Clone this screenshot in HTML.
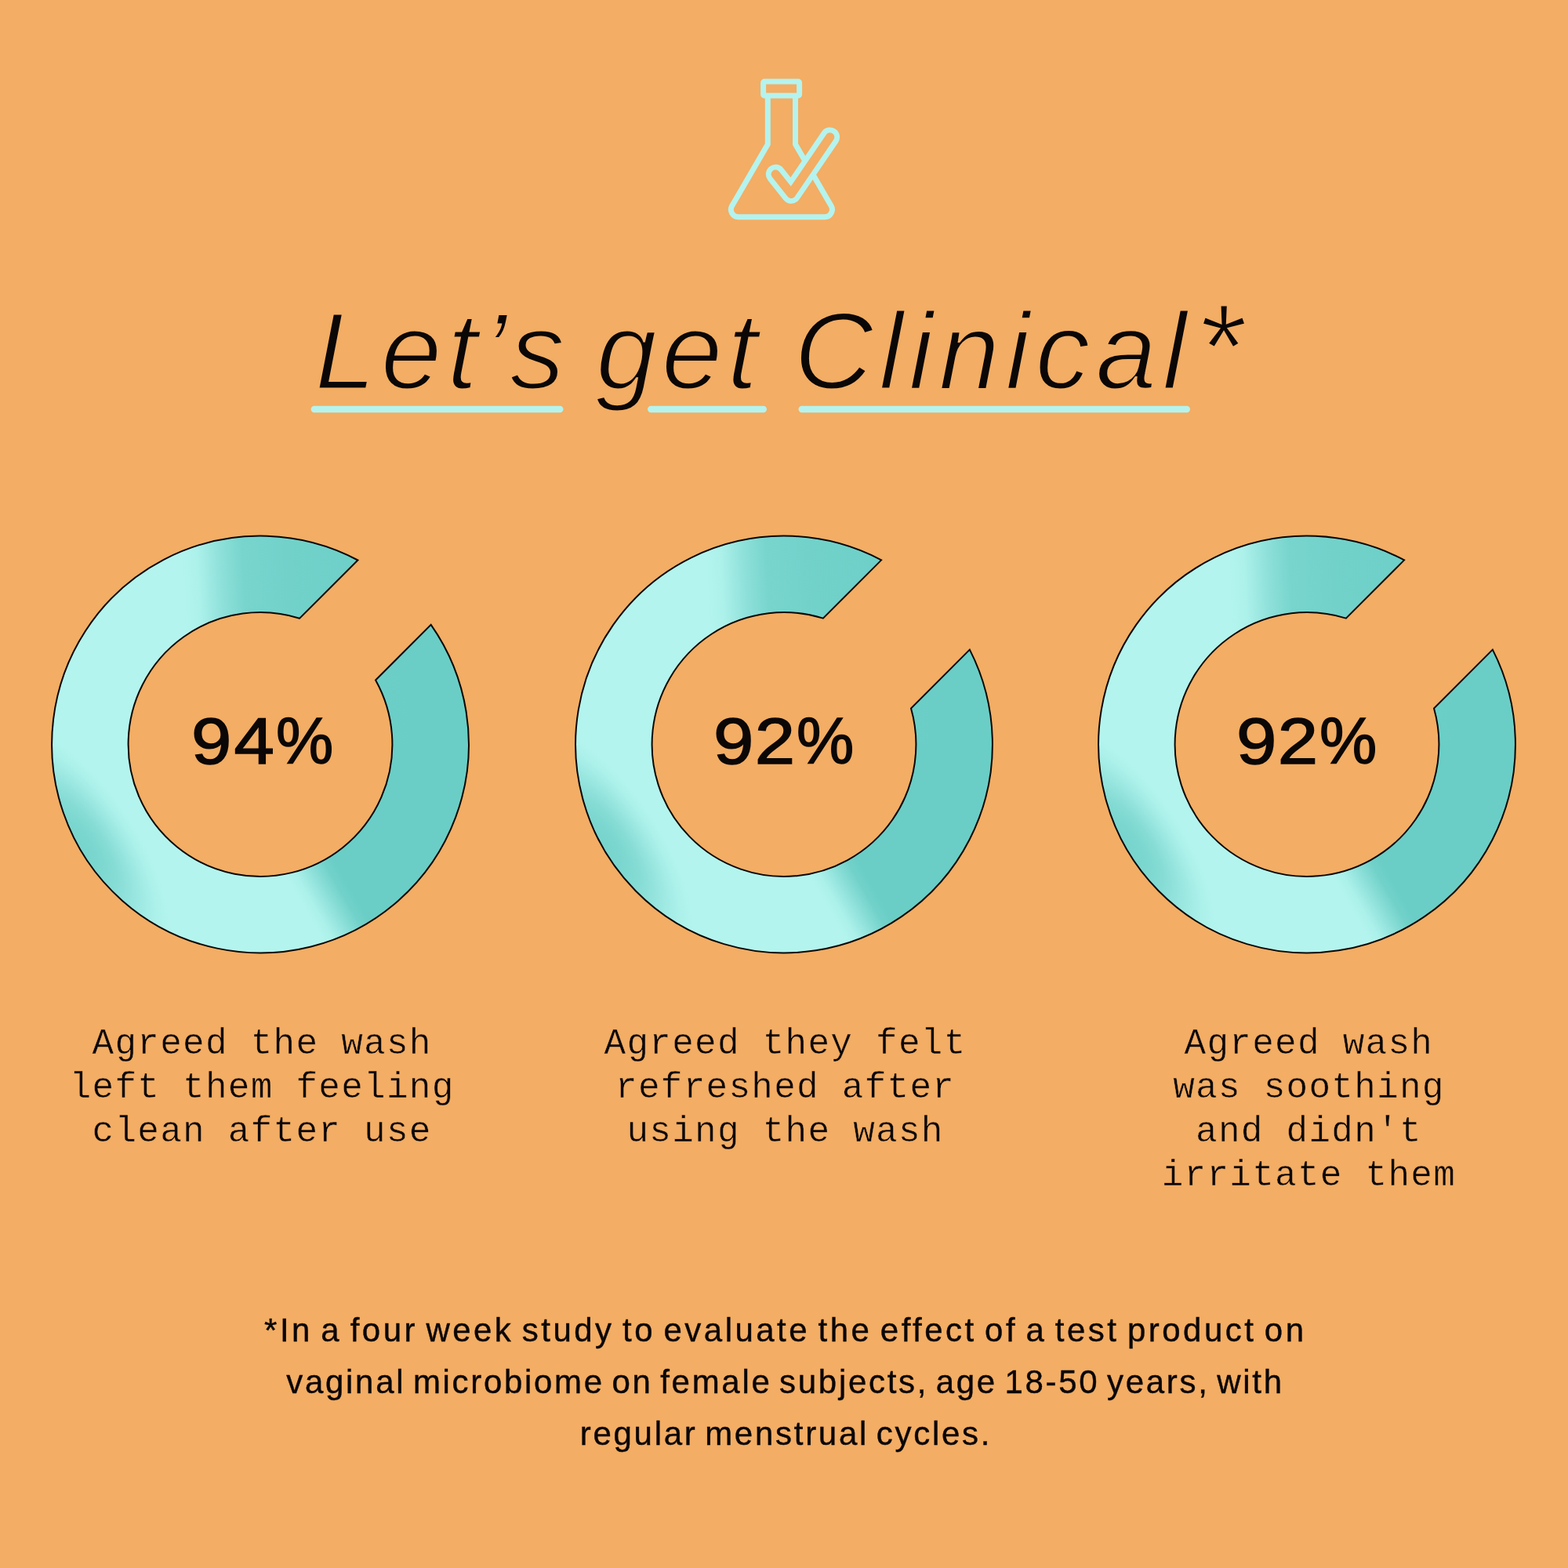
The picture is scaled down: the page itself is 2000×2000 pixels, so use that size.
<!DOCTYPE html>
<html lang="en">
<head>
<meta charset="utf-8">
<title>Let's get Clinical</title>
<style>
  html, body { margin: 0; padding: 0; }
  body { width: 2000px; height: 2000px; background: #F3AD64; position: relative; overflow: hidden; color: #0b0707; }
  svg.art { position: absolute; left: 0; top: 0; width: 2000px; height: 2000px; }
  .abs { position: absolute; white-space: nowrap; margin: 0; }
  h1 { left: 0; top: 377.6px; width: 2000px; height: 140px; font-weight: 400; font-style: italic; font-family: "Liberation Sans", sans-serif; font-size: 140px; line-height: 1; -webkit-text-stroke: 3px #F3AD64; }
  h1 span { display: inline-block; vertical-align: top; white-space: nowrap; }
  .pct { left: 0; top: 902.8px; font-family: "Liberation Sans", sans-serif; font-size: 84px; line-height: 1; -webkit-text-stroke: 1.5px #0b0707; }
  .pct span { display: inline-block; vertical-align: top; transform-origin: 0 0; }
  .pct .d { transform: scaleX(1.1); }
  .pct .s { transform: scaleX(0.98); }
  .cap { font-family: "Liberation Mono", monospace; font-size: 46px; line-height: 56px; width: 660px; text-align: center; letter-spacing: 1.27px; -webkit-text-stroke: 0.5px #F3AD64; }
  .foot span { display: block; }
  .foot { font-family: "Liberation Sans", sans-serif; font-size: 42px; line-height: 66px; width: 2000px; left: 0; text-align: left; letter-spacing: 2.5px; word-spacing: -4.7px; -webkit-text-stroke: 0.4px #0b0707; }
</style>
</head>
<body>
<svg class="art" viewBox="0 0 2000 2000">

<defs>
  <linearGradient id="gTop" gradientUnits="userSpaceOnUse" x1="-88" y1="0" x2="192" y2="0" gradientTransform="rotate(-3)">
    <stop offset="0" stop-color="#6ACEC6" stop-opacity="0"/>
    <stop offset="0.07" stop-color="#6ACEC6" stop-opacity="0.08"/>
    <stop offset="0.175" stop-color="#6ACEC6" stop-opacity="0.5"/>
    <stop offset="0.28" stop-color="#6ACEC6" stop-opacity="0.82"/>
    <stop offset="0.5" stop-color="#6ACEC6" stop-opacity="0.9"/>
    <stop offset="1" stop-color="#6ACEC6" stop-opacity="1"/>
  </linearGradient>
  <linearGradient id="gBot" gradientUnits="userSpaceOnUse" x1="-56" y1="0" x2="8" y2="0" gradientTransform="rotate(-30)">
    <stop offset="0" stop-color="#6ACEC6" stop-opacity="0"/>
    <stop offset="0.2" stop-color="#6ACEC6" stop-opacity="0.1"/>
    <stop offset="0.5" stop-color="#6ACEC6" stop-opacity="0.5"/>
    <stop offset="0.8" stop-color="#6ACEC6" stop-opacity="0.9"/>
    <stop offset="1" stop-color="#6ACEC6" stop-opacity="1"/>
  </linearGradient>
  <radialGradient id="gBand" gradientUnits="userSpaceOnUse" cx="0" cy="0" r="1" gradientTransform="translate(-231 128) rotate(56) scale(176 72)">
    <stop offset="0" stop-color="#6ACEC6" stop-opacity="0.82"/>
    <stop offset="0.2" stop-color="#6ACEC6" stop-opacity="0.78"/>
    <stop offset="0.4" stop-color="#6ACEC6" stop-opacity="0.63"/>
    <stop offset="0.55" stop-color="#6ACEC6" stop-opacity="0.45"/>
    <stop offset="0.7" stop-color="#6ACEC6" stop-opacity="0.26"/>
    <stop offset="0.85" stop-color="#6ACEC6" stop-opacity="0.09"/>
    <stop offset="1" stop-color="#6ACEC6" stop-opacity="0"/>
  </radialGradient>
</defs>


  <g fill="none" stroke="#B5F3EE" stroke-width="7" stroke-linejoin="round" stroke-linecap="round">
    <rect x="973.6" y="104.1" width="46" height="17.9" rx="1.5"/>
    <path d="M979.3 124 V184 L933.65 262.6 A9.4 9.4 0 0 0 941.8 276.7 H1052 A9.4 9.4 0 0 0 1060.15 262.6 L1014.5 184 V124"/>
    <path d="M989.3 222.2 L1009.2 247.3 L1058.6 174.9" stroke-width="25"/>
    <path d="M989.3 222.2 L1009.2 247.3 L1058.6 174.9" stroke="#F3AD64" stroke-width="11.4"/>
  </g>


  <g stroke="#B5F3EE" stroke-width="8.4" stroke-linecap="round">
    <line x1="400.8" y1="522" x2="714.3" y2="522"/>
    <line x1="830.2" y1="522" x2="973.8" y2="522"/>
    <line x1="1022.7" y1="522" x2="1513.8" y2="522"/>
  </g>


  <g transform="translate(332.0 949.5)">
    <clipPath id="ring0"><path d="M217.69 -152.69 A265.9 265.9 0 1 1 124.40 -235.00 L50.16 -160.76 A168.4 168.4 0 1 0 147.06 -82.06 Z"/></clipPath>
    <g clip-path="url(#ring0)">
      <rect x="-280" y="-280" width="560" height="560" fill="#B3F4EE"/>
      <rect x="-280" y="-280" width="560" height="560" fill="url(#gBand)"/>
      <rect x="-280" y="-280" width="560" height="280.6" fill="url(#gTop)"/>
      <rect x="-280" y="0" width="560" height="280" fill="url(#gBot)"/>
    </g>
    <path d="M217.69 -152.69 A265.9 265.9 0 1 1 124.40 -235.00 L50.16 -160.76 A168.4 168.4 0 1 0 147.06 -82.06 Z" fill="none" stroke="#0b0707" stroke-width="2" stroke-linejoin="miter"/>
  </g>
  <g transform="translate(1000.0 949.5)">
    <clipPath id="ring1"><path d="M236.85 -120.85 A265.9 265.9 0 1 1 124.14 -235.14 L49.85 -160.85 A168.4 168.4 0 1 0 162.00 -46.00 Z"/></clipPath>
    <g clip-path="url(#ring1)">
      <rect x="-280" y="-280" width="560" height="560" fill="#B3F4EE"/>
      <rect x="-280" y="-280" width="560" height="560" fill="url(#gBand)"/>
      <rect x="-280" y="-280" width="560" height="280.6" fill="url(#gTop)"/>
      <rect x="-280" y="0" width="560" height="280" fill="url(#gBot)"/>
    </g>
    <path d="M236.85 -120.85 A265.9 265.9 0 1 1 124.14 -235.14 L49.85 -160.85 A168.4 168.4 0 1 0 162.00 -46.00 Z" fill="none" stroke="#0b0707" stroke-width="2" stroke-linejoin="miter"/>
  </g>
  <g transform="translate(1667.0 949.5)">
    <clipPath id="ring2"><path d="M236.85 -120.85 A265.9 265.9 0 1 1 124.14 -235.14 L49.85 -160.85 A168.4 168.4 0 1 0 162.00 -46.00 Z"/></clipPath>
    <g clip-path="url(#ring2)">
      <rect x="-280" y="-280" width="560" height="560" fill="#B3F4EE"/>
      <rect x="-280" y="-280" width="560" height="560" fill="url(#gBand)"/>
      <rect x="-280" y="-280" width="560" height="280.6" fill="url(#gTop)"/>
      <rect x="-280" y="0" width="560" height="280" fill="url(#gBot)"/>
    </g>
    <path d="M236.85 -120.85 A265.9 265.9 0 1 1 124.14 -235.14 L49.85 -160.85 A168.4 168.4 0 1 0 162.00 -46.00 Z" fill="none" stroke="#0b0707" stroke-width="2" stroke-linejoin="miter"/>
  </g>
</svg>

<h1 class="abs" id="h"><span style="margin-left:401.5px; letter-spacing:6.47px;">Let’s</span> <span style="margin-left:-5.969px; letter-spacing:5.9px;">get</span> <span style="margin-left:1.473px; letter-spacing:7.09px;">Clinical</span><span style="margin-left:3.34px; position:relative; top:-13.6px; font-size:156px;">*</span></h1>

<div class="abs pct" id="p1"><span class="d" style="margin-left:243.5px; letter-spacing:2.73px;">94</span><span class="s" style="margin-left:9.3px;">%</span></div>
<div class="abs pct" id="p2"><span class="d" style="margin-left:910.309px; letter-spacing:1.18px;">92</span><span class="s" style="margin-left:10.219px;">%</span></div>
<div class="abs pct" id="p3"><span class="d" style="margin-left:1577.207px; letter-spacing:1.18px;">92</span><span class="s" style="margin-left:10.219px;">%</span></div>

<div class="abs cap" id="cap1" style="left:4.1px; top:1303.8px;">Agreed the wash<br>left them feeling<br>clean after use</div>
<div class="abs cap" id="cap2" style="left:671.6px; top:1303.8px;">Agreed they felt<br>refreshed after<br>using the wash</div>
<div class="abs cap" id="cap3" style="left:1339.4px; top:1303.8px;">Agreed wash<br>was soothing<br>and didn't<br>irritate them</div>

<div class="abs foot" id="f" style="top:1664px;"><span style="margin-left:337.1px; letter-spacing:3.48px">*In a four week study to evaluate the effect of a test product on</span>
<span style="margin-left:365.3px; letter-spacing:2.69px">vaginal microbiome on female subjects, age 18-50 years, with</span>
<span style="margin-left:739.7px; letter-spacing:2.72px">regular menstrual cycles.</span></div>
</body>
</html>
